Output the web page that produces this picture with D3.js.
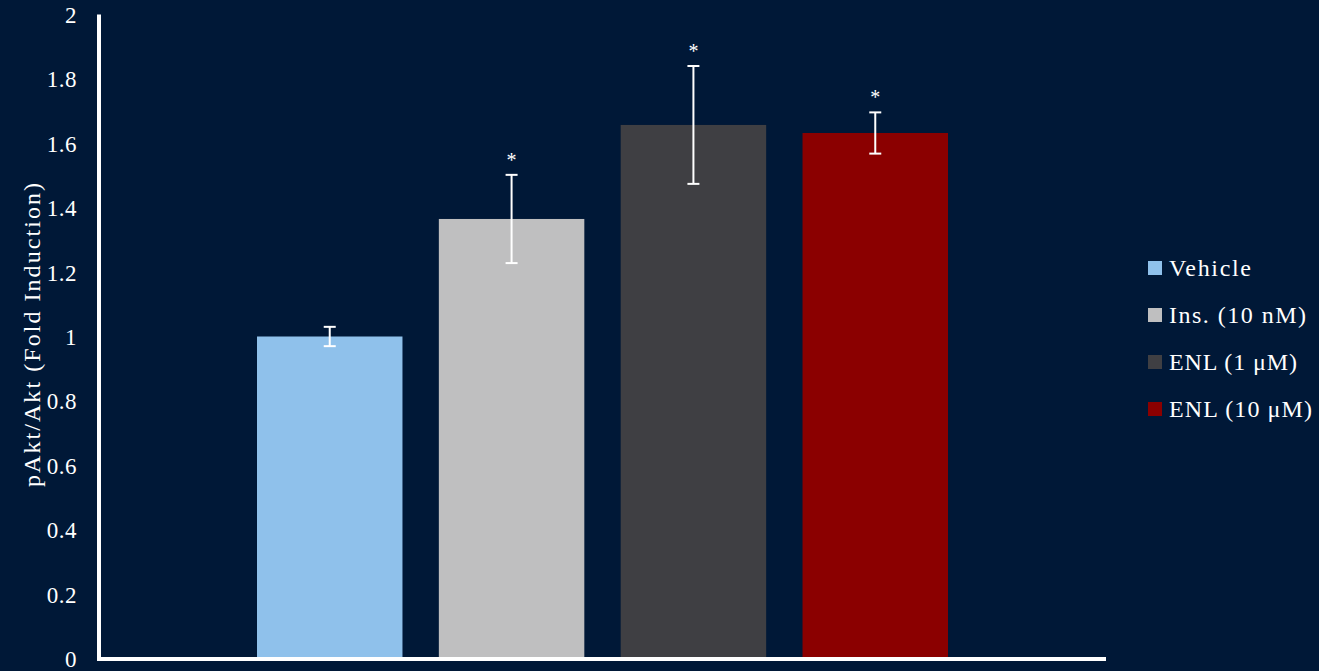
<!DOCTYPE html>
<html><head><meta charset="utf-8">
<script src="https://cdn.jsdelivr.net/npm/d3@7"></script>
<style>html,body{margin:0;padding:0;background:#001837;}svg{display:block;}</style>
</head><body>
<script>
const categories = ["Vehicle", "Ins. (10 nM)", "ENL (1 μM)", "ENL (10 μM)"];
const values = [1.0, 1.365, 1.657, 1.632];
const errors = [0.03, 0.137, 0.183, 0.064];
const significant = [false, true, true, true];
const colors = ["#8fc1eb", "#bfbfc0", "#3f3f43", "#8b0000"];
const yTicks = [0, 0.2, 0.4, 0.6, 0.8, 1, 1.2, 1.4, 1.6, 1.8, 2];

const W = 1319, H = 671;
const svg = d3.select("body").append("svg").attr("width", W).attr("height", H);
svg.append("rect").attr("width", W).attr("height", H).attr("fill", "#001837");

const font = "'Liberation Serif', 'DejaVu Serif', serif";
const x0 = 99, yBottom = 658.5, yTop = 14.5;
const y = d3.scaleLinear().domain([0, 2]).range([yBottom, yTop]);
const x = d3.scaleBand().domain(categories).range([257, 948]).paddingInner(0.2).paddingOuter(0);

// bars
svg.selectAll("rect.bar").data(categories).enter().append("rect")
  .attr("x", d => x(d)).attr("width", x.bandwidth())
  .attr("y", (d, i) => y(values[i])).attr("height", (d, i) => y(0) - y(values[i]))
  .attr("fill", (d, i) => colors[i]);

// error bars
const eb = svg.append("g").attr("stroke", "#ffffff").attr("stroke-width", 2);
categories.forEach((c, i) => {
  const cx = x(c) + x.bandwidth() / 2;
  const hi = y(values[i] + errors[i]), lo = y(values[i] - errors[i]);
  eb.append("line").attr("x1", cx).attr("x2", cx).attr("y1", hi).attr("y2", lo);
  eb.append("line").attr("x1", cx - 6).attr("x2", cx + 6).attr("y1", hi).attr("y2", hi);
  eb.append("line").attr("x1", cx - 6).attr("x2", cx + 6).attr("y1", lo).attr("y2", lo);
  if (significant[i]) {
    svg.append("text").attr("x", cx).attr("y", hi - 8)
      .attr("text-anchor", "middle").attr("fill", "#ffffff")
      .attr("font-family", font).attr("font-size", 20).text("*");
  }
});

// axes
const yAxis = d3.axisLeft(y).tickValues(yTicks).tickSize(0).tickPadding(0).tickFormat(d3.format("~g"));
const gy = svg.append("g").attr("transform", `translate(77,0)`).call(yAxis);
gy.select(".domain").remove();
gy.selectAll("text").attr("fill", "#ffffff").attr("font-family", font).attr("font-size", 23)
  .attr("dy", "0.35em").attr("letter-spacing", "0.5px");

svg.append("line").attr("x1", x0).attr("x2", x0).attr("y1", yTop).attr("y2", yBottom + 2)
  .attr("stroke", "#ffffff").attr("stroke-width", 4);
svg.append("line").attr("x1", x0 - 2).attr("x2", 1106).attr("y1", yBottom + 0.5).attr("y2", yBottom + 0.5)
  .attr("stroke", "#ffffff").attr("stroke-width", 4);

// y title
svg.append("text").attr("transform", "translate(40,335) rotate(-90)")
  .attr("text-anchor", "middle").attr("fill", "#ffffff")
  .attr("font-family", font).attr("font-size", 24)
  .attr("textLength", 304).attr("lengthAdjust", "spacing")
  .text("pAkt/Akt (Fold Induction)");

// legend
const lg = svg.append("g");
const legendWidths = [82, 137, 128, 143];
categories.forEach((c, i) => {
  const ly = 268 + i * 47;
  lg.append("rect").attr("x", 1148).attr("y", ly - 7).attr("width", 14).attr("height", 14).attr("fill", colors[i]);
  lg.append("text").attr("x", 1169).attr("y", ly).attr("dy", "0.35em")
    .attr("fill", "#ffffff").attr("font-family", font).attr("font-size", 24)
    .attr("textLength", legendWidths[i]).attr("lengthAdjust", "spacing").text(c);
});
</script>
</body></html>
